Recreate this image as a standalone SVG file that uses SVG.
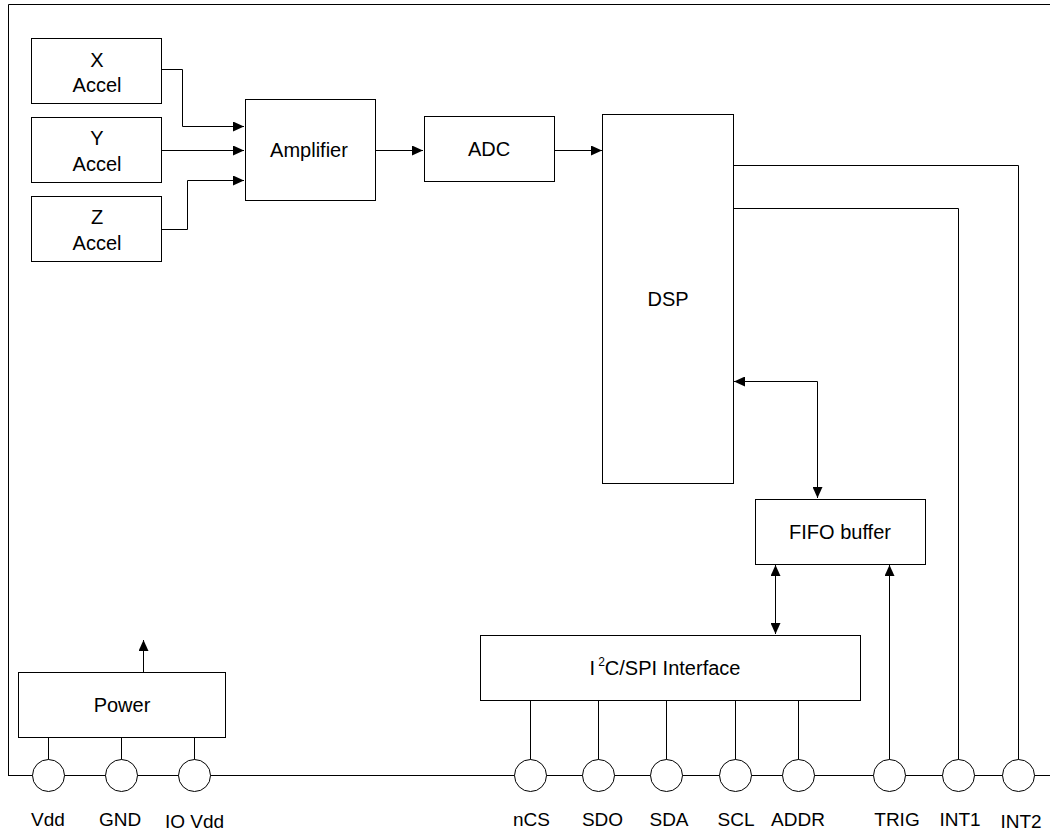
<svg xmlns="http://www.w3.org/2000/svg" width="1050" height="832" viewBox="0 0 1050 832">
<style>
.box{fill:#fff;stroke:#000;stroke-width:1}
.ln{fill:none;stroke:#000;stroke-width:1}
.pin{fill:#fff;stroke:#000;stroke-width:1}
text{font-family:"Liberation Sans",Arial,sans-serif;font-size:20px;fill:#000;text-anchor:middle}
.lbl{font-size:19px}
</style>
<defs>
<marker id="ah" markerUnits="userSpaceOnUse" markerWidth="12" markerHeight="10" refX="11" refY="5" orient="auto-start-reverse">
<path d="M0,0 L11,5 L0,10 z" fill="#000"/>
</marker>
</defs>
<rect width="1050" height="832" fill="#fff"/>
<g id="frame">
<path class="ln" d="M8.5,776 V4.5 H1050"/>
<path class="ln" d="M8.5,775.5 H1050"/>
</g>
<g id="connectors">
<path class="ln" d="M162,69.5 H182.5 V126.5 H244" marker-end="url(#ah)"/>
<path class="ln" d="M162,150.5 H244" marker-end="url(#ah)"/>
<path class="ln" d="M162,229.5 H187.5 V180.5 H244" marker-end="url(#ah)"/>
<path class="ln" d="M375,150.5 H423" marker-end="url(#ah)"/>
<path class="ln" d="M554,150.5 H602" marker-end="url(#ah)"/>
<path class="ln" d="M732,165.5 H1018.5 V760"/>
<path class="ln" d="M732,208.5 H958.5 V760"/>
<path class="ln" d="M734,381.5 H817.5 V498" marker-start="url(#ah)" marker-end="url(#ah)"/>
<path class="ln" d="M775.5,565 V634" marker-start="url(#ah)" marker-end="url(#ah)"/>
<path class="ln" d="M889.5,760 V565" marker-end="url(#ah)"/>
<path class="ln" d="M143.5,672 V640" marker-end="url(#ah)"/>
<path class="ln" d="M530.5,700 V760"/>
<path class="ln" d="M598.5,700 V760"/>
<path class="ln" d="M666.5,700 V760"/>
<path class="ln" d="M735.5,700 V760"/>
<path class="ln" d="M798.5,700 V760"/>
<path class="ln" d="M48.5,737 V760"/>
<path class="ln" d="M121.5,737 V760"/>
<path class="ln" d="M194.5,737 V760"/>
</g>
<g id="x-accel"><rect class="box" x="31.5" y="38.5" width="130" height="65"/><text x="97" y="67">X</text><text x="97" y="92">Accel</text></g>
<g id="y-accel"><rect class="box" x="31.5" y="117.5" width="130" height="65"/><text x="97" y="145">Y</text><text x="97" y="171">Accel</text></g>
<g id="z-accel"><rect class="box" x="31.5" y="196.5" width="130" height="65"/><text x="97" y="224">Z</text><text x="97" y="250">Accel</text></g>
<g id="amplifier"><rect class="box" x="245.5" y="99.5" width="130" height="101"/><text x="309" y="157">Amplifier</text></g>
<g id="adc"><rect class="box" x="424.5" y="116.5" width="130" height="65"/><text x="489" y="156">ADC</text></g>
<g id="dsp"><rect class="box" x="602.5" y="114.5" width="131" height="369"/><text x="668" y="306">DSP</text></g>
<g id="fifo"><rect class="box" x="755.5" y="499.5" width="170" height="65"/><text x="840" y="539">FIFO buffer</text></g>
<g id="interface"><rect class="box" x="480.5" y="635.5" width="380" height="65"/><text x="665" y="675">I<tspan font-size="12" dy="-9" dx="3">2</tspan><tspan dy="9">C/SPI Interface</tspan></text></g>
<g id="power"><rect class="box" x="18.5" y="672.5" width="207" height="65"/><text x="122" y="712">Power</text></g>
<g id="pins">
<circle class="pin" cx="48.5" cy="775.5" r="16"/>
<circle class="pin" cx="121.5" cy="775.5" r="16"/>
<circle class="pin" cx="194.5" cy="775.5" r="16"/>
<circle class="pin" cx="530.5" cy="775.5" r="16"/>
<circle class="pin" cx="598.5" cy="775.5" r="16"/>
<circle class="pin" cx="666.5" cy="775.5" r="16"/>
<circle class="pin" cx="735.5" cy="775.5" r="16"/>
<circle class="pin" cx="798.5" cy="775.5" r="16"/>
<circle class="pin" cx="889.5" cy="775.5" r="16"/>
<circle class="pin" cx="958.5" cy="775.5" r="16"/>
<circle class="pin" cx="1018.5" cy="775.5" r="16"/>
</g>
<g id="pin-labels">
<text class="lbl" x="48" y="826">Vdd</text>
<text class="lbl" x="120" y="826">GND</text>
<text class="lbl" x="194.5" y="828">IO Vdd</text>
<text class="lbl" x="531.5" y="826">nCS</text>
<text class="lbl" x="602.5" y="826">SDO</text>
<text class="lbl" x="669" y="826">SDA</text>
<text class="lbl" x="736" y="826">SCL</text>
<text class="lbl" x="798" y="826">ADDR</text>
<text class="lbl" x="897" y="826">TRIG</text>
<text class="lbl" x="960" y="826">INT1</text>
<text class="lbl" x="1021" y="828">INT2</text>
</g>
</svg>
